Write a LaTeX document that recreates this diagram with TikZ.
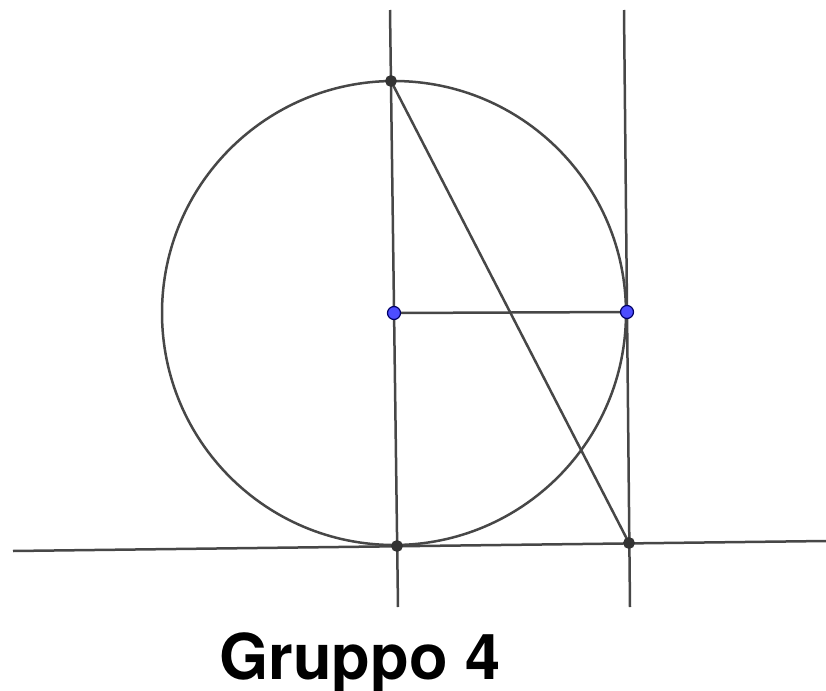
\documentclass[tikz,border=0pt]{standalone}
\usepackage{fontspec}
\newfontfamily\heros{TeX Gyre Heros}
\usepackage{xcolor}
\usepackage{tikz}

\definecolor{linea}{HTML}{474747}
\definecolor{punto}{HTML}{333333}
\definecolor{blupunto}{HTML}{4D4DFF}

\begin{document}
\begin{tikzpicture}[
      x=0.5pt, y=-0.5pt,
      retta/.style={line width=1.25pt, linea},
      ptnero/.style={circle, fill=punto, draw=black!80, line width=0.4pt, inner sep=0pt, minimum size=5.5pt},
      ptblu/.style={circle, fill=blupunto, draw=blue!40!black, line width=0.6pt, inner sep=0pt, minimum size=6.5pt},
      titolo/.style={font=\heros\bfseries\fontsize{31.6}{36}\selectfont}
    ]
    \useasboundingbox (0,0) rectangle (826,691);

    % Punti
    \coordinate (A) at (391,81);
    \coordinate (O) at (394,313);
    \coordinate (T) at (627,312);
    \coordinate (B) at (397,546);
    \coordinate (C) at (629,543);

    % Estremi delle rette
    \coordinate (s1) at (390,10);
    \coordinate (s2) at (398,607);
    \coordinate (d1) at (624,10);
    \coordinate (d2) at (630,607);
    \coordinate (o1) at (13,551);
    \coordinate (o2) at (826,541);

    % Circonferenza
    \draw[retta] (O) circle (232);

    % Rette
    \draw[retta] (s1) -- (s2);
    \draw[retta] (d1) -- (d2);
    \draw[retta] (o1) -- (o2);

    % Segmenti
    \draw[retta] (A) -- (C);
    \draw[retta] (O) -- (T);

    % Punti disegnati
    \foreach \p in {A,B,C}
      \node[ptnero] at (\p) {};
    \foreach \p in {O,T}
      \node[ptblu] at (\p) {};

    % Titolo
    \node[titolo, anchor=base] (tit) at (360,679) {Gruppo 4};
  \end{tikzpicture}
\end{document}
